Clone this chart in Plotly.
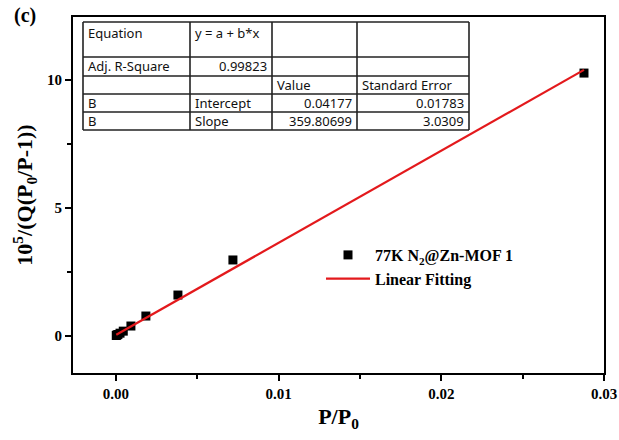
import plotly.graph_objects as go

# data
p_rel = [0.00002, 0.00006, 0.00012, 0.00025, 0.00045, 0.00092, 0.00184, 0.00381, 0.00719, 0.02877]
bet_y = [0.02, 0.04, 0.06, 0.11, 0.19, 0.39, 0.78, 1.60, 2.97, 10.27]
fit_intercept = 0.04177
fit_slope = 359.80699
fit_x = [0.00002, 0.02877]
fit_y = [fit_intercept + fit_slope * v for v in fit_x]

x_ticks = [0.00, 0.01, 0.02, 0.03]
x_ticklabels = ["0.00", "0.01", "0.02", "0.03"]
y_ticks = [0, 5, 10]

table_rows = [
    ["Equation", "y = a + b*x", "", ""],
    ["Adj. R-Square", "0.99823", "", ""],
    ["", "", "Value", "Standard Error"],
    ["B", "Intercept", "0.04177", "0.01783"],
    ["B", "Slope", "359.80699", "3.0309"],
]
# alignment per cell: l = left, r = right
table_align = [
    ["l", "l", "l", "l"],
    ["l", "r", "l", "l"],
    ["l", "l", "l", "l"],
    ["l", "l", "r", "r"],
    ["l", "l", "r", "r"],
]

serif = "Liberation Serif"

fig = go.Figure()
fig.add_trace(go.Scatter(
    x=p_rel, y=bet_y, mode="markers",
    marker=dict(symbol="square", size=9, color="black"),
    name="<b>77K N<sub>2</sub>@Zn-MOF 1</b>",
))
fig.add_trace(go.Scatter(
    x=fit_x, y=fit_y, mode="lines",
    line=dict(color="#e3191c", width=2.2),
    name="<b>Linear Fitting</b>",
))

# plot area in page pixels
L, R, T, B = 73, 604, 17, 373
W, H = 619, 440
def px(xp):
    return (xp - L) / (R - L)
def py(yp):
    return (B - yp) / (B - T)

# table geometry (page pixels)
col_edges = [83, 190, 272, 357, 469]
row_edges = [22, 57, 76, 94, 112, 130]
text_centers = [33, 66, 85, 103, 121]
shapes = []
for c in col_edges:
    shapes.append(dict(type="line", xref="paper", yref="paper",
                       x0=px(c), x1=px(c), y0=py(row_edges[0]), y1=py(row_edges[-1]),
                       line=dict(color="#222", width=1.6)))
for r in row_edges:
    shapes.append(dict(type="line", xref="paper", yref="paper",
                       x0=px(col_edges[0]), x1=px(col_edges[-1]), y0=py(r), y1=py(r),
                       line=dict(color="#222", width=1.6)))

annotations = []
for i, row in enumerate(table_rows):
    for j, txt in enumerate(row):
        if not txt:
            continue
        al = table_align[i][j]
        if al == "l":
            xx = px(col_edges[j] + 3); xa = "left"
        else:
            xx = px(col_edges[j + 1] - 3); xa = "right"
        yy = py(text_centers[i])
        annotations.append(dict(text=txt, xref="paper", yref="paper", x=xx, y=yy,
                                xanchor=xa, yanchor="middle", showarrow=False,
                                font=dict(family="Noto Sans", size=13, color="#111")))

annotations.append(dict(text="<b>(c)</b>", xref="paper", yref="paper",
                        x=px(12), y=py(15), xanchor="left", yanchor="middle", showarrow=False,
                        font=dict(family=serif, size=20, color="black")))

fig.update_layout(
    width=W, height=H,
    margin=dict(l=L, r=W - R, t=T, b=H - B, autoexpand=False),
    paper_bgcolor="white", plot_bgcolor="white",
    shapes=shapes, annotations=annotations,
    showlegend=True,
    legend=dict(x=px(321), y=py(238), xanchor="left", yanchor="top",
                font=dict(family=serif, size=16, color="black"),
                bgcolor="rgba(0,0,0,0)", itemwidth=44),
    xaxis=dict(
        range=[-0.00264, 0.0300], tickvals=x_ticks, ticktext=x_ticklabels, automargin=False,
        showgrid=False, zeroline=False, showline=True, linecolor="black", linewidth=2,
        mirror=True, ticks="outside", ticklen=6, tickwidth=2, tickcolor="black",
        minor=dict(tickvals=[0.005, 0.015, 0.025], ticks="outside", ticklen=4, tickwidth=2, tickcolor="black"),
        tickfont=dict(family=serif, size=15, color="black", weight="bold"),
        title=dict(text="<b>P/P<sub>0</sub></b>", font=dict(family=serif, size=22, color="black"), standoff=8),
    ),
    yaxis=dict(
        range=[-1.445, 12.46], tickvals=y_ticks, automargin=False,
        showgrid=False, zeroline=False, showline=True, linecolor="black", linewidth=2,
        mirror=True, ticks="outside", ticklen=6, tickwidth=2, tickcolor="black",
        minor=dict(tickvals=[2.5, 7.5], ticks="outside", ticklen=4, tickwidth=2, tickcolor="black"),
        tickfont=dict(family=serif, size=15, color="black", weight="bold"),
        title=dict(text="<b>10<sup>5</sup>/(Q(P<sub>0</sub>/P-1))</b>", font=dict(family=serif, size=22, color="black"), standoff=8),
    ),
)

fig.write_html("out.html", config={"displayModeBar": False},
               post_script="document.body.style.margin='0';")
